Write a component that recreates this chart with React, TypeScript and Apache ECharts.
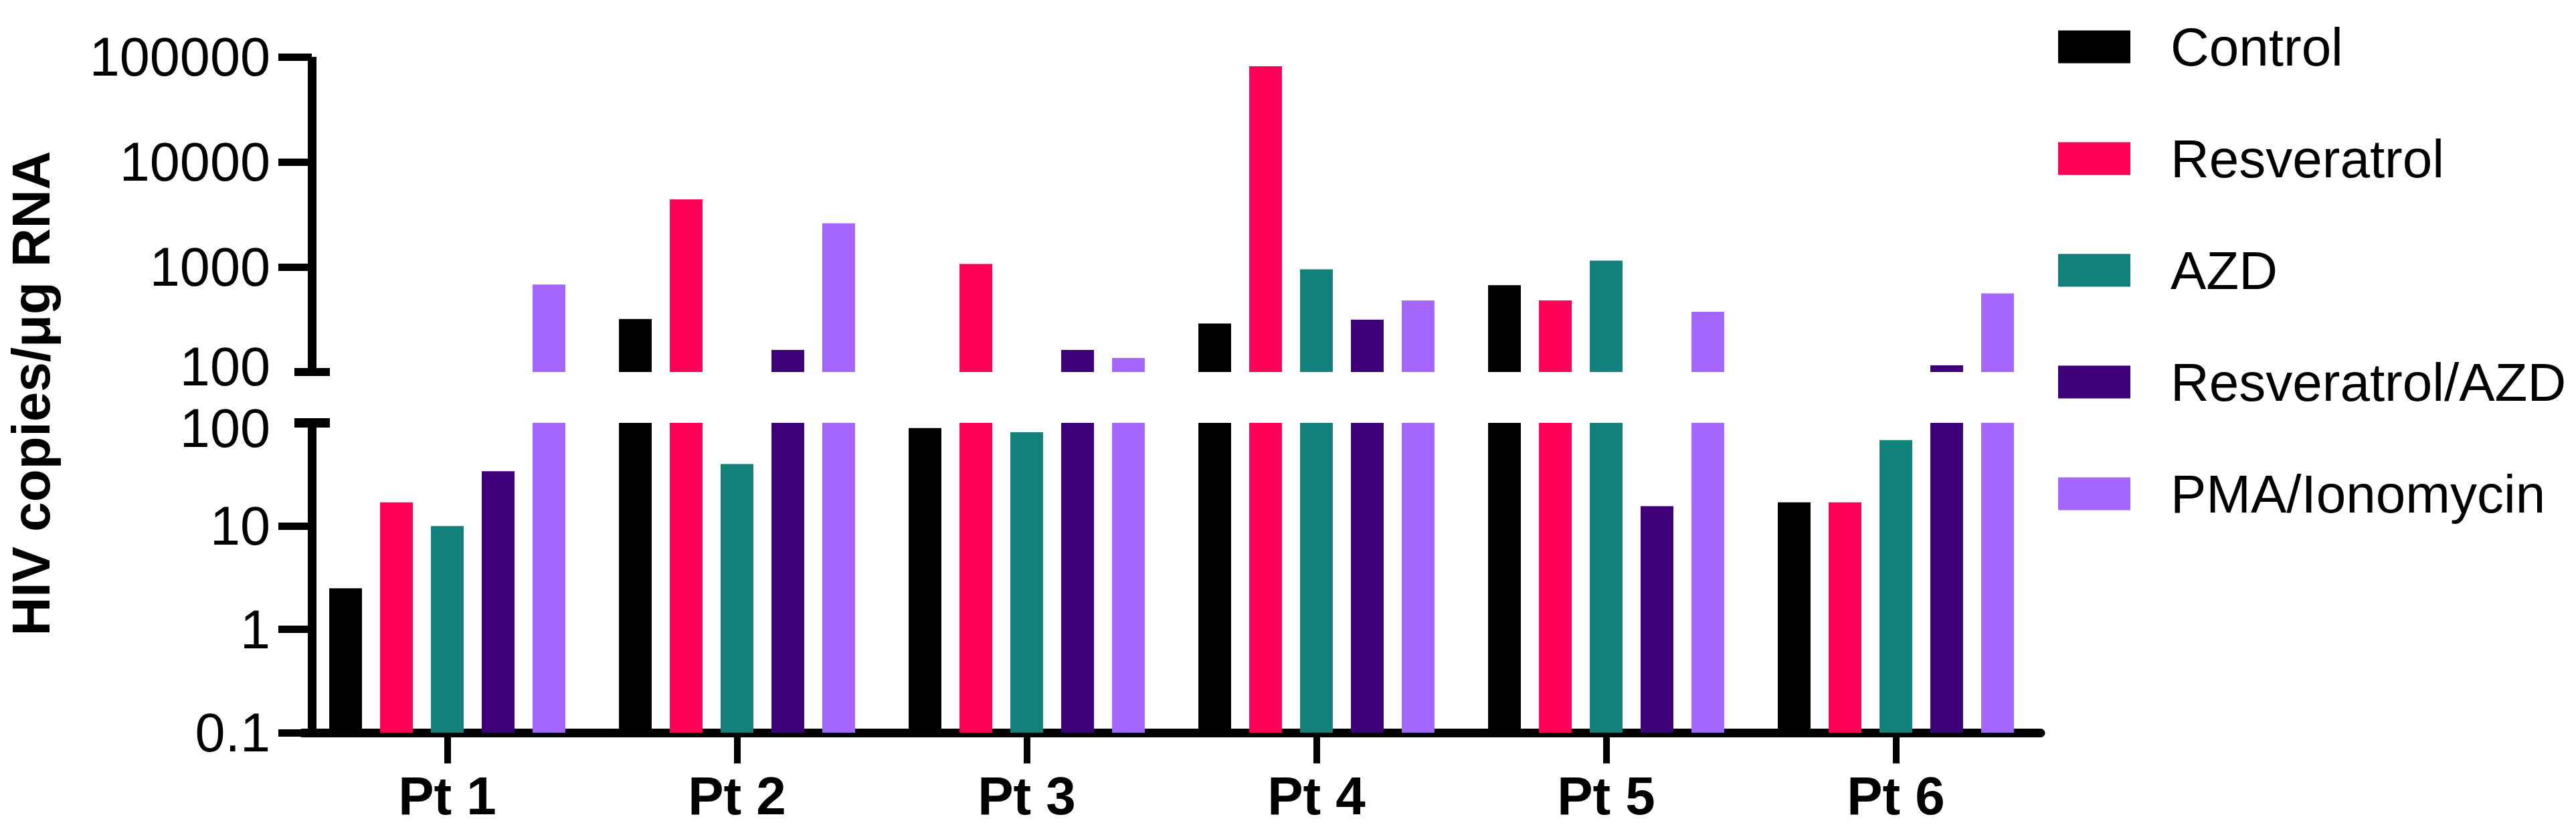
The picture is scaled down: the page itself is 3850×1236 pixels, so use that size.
import React, { useEffect, useRef } from "react";
import * as echarts from "echarts";

const categories = ["Pt 1", "Pt 2", "Pt 3", "Pt 4", "Pt 5", "Pt 6"];
const seriesNames = ["Control", "Resveratrol", "AZD", "Resveratrol/AZD", "PMA/Ionomycin"];
const seriesColors = ["#000000", "#FF0058", "#12807B", "#3D0078", "#A466FC"];

const control = [2.5, 320, 89, 290, 670, 17];
const resveratrol = [17, 4400, 1070, 81500, 480, 17];
const azd = [10, 40, 81, 950, 1150, 68];
const resveratrolAzd = [34, 162, 162, 315, 15.6, 116];
const pmaIonomycin = [680, 2600, 136, 480, 375, 560];

const upperLabels = [100, 1000, 10000, 100000];
const upperTicks = [1000, 10000, 100000];
const lowerLabels = [0.1, 1, 10, 100];
const lowerTicks = [0.1, 1, 10];

const allValues = [control, resveratrol, azd, resveratrolAzd, pmaIonomycin];

const FONT = "'Liberation Sans', Arial, Helvetica, sans-serif";
const GRID_LEFT = 452;
const GRID_RIGHT = 800;
const UP_TOP = 85;
const UP_H = 471;
const LO_TOP = 632;
const LO_H = 463;
const AXIS_SHIFT = -14;
const AXIS_X = GRID_LEFT - AXIS_SHIFT;
const LABEL_SIZE = 81;

function makeRender(seriesIdx: number, axisMin: number) {
  return (params: any, api: any) => {
    const v = api.value(1);
    if (v == null || isNaN(v)) return null;
    const cat = api.value(0);
    const band = api.size([1, 0])[0];
    const bw = band * 0.113;
    const step = band * 0.1755;
    const top = api.coord([cat, v]);
    const base = api.coord([cat, axisMin]);
    const cs = params.coordSys;
    const cx = top[0] + (seriesIdx - 2) * step;
    let y0 = Math.min(top[1], base[1]);
    let y1 = Math.max(top[1], base[1]);
    y0 = Math.max(y0, cs.y);
    y1 = Math.min(y1, cs.y + cs.height);
    if (y1 - y0 <= 0.5) return null;
    return {
      type: "rect",
      shape: { x: cx - bw / 2, y: y0, width: bw, height: y1 - y0 },
      style: api.style(),
    };
  };
}

export default function App() {
  const ref = useRef<HTMLDivElement>(null);
  useEffect(() => {
    if (!ref.current) return;
    const chart = echarts.init(ref.current, null, { renderer: "svg" });
    const series: any[] = [];
    [0, 1].forEach((g) => {
      allValues.forEach((vals, i) => {
        series.push({
          type: "custom",
          name: seriesNames[i],
          xAxisIndex: g,
          yAxisIndex: g,
          clip: true,
          itemStyle: { color: seriesColors[i] },
          encode: { x: 0, y: 1 },
          data: vals.map((v, k) => [k, v]),
          renderItem: makeRender(i, g === 0 ? upperLabels[0] : lowerLabels[0]),
        });
      });
    });
    const tokenStyle = { fontSize: LABEL_SIZE, fontFamily: FONT, color: "#000" };
    const yCommon = (
      labels: number[],
      ticks: number[],
      min: number,
      max: number,
      gi: number,
      breakValue: number,
      breakToken: string
    ) => ({
      type: "log",
      logBase: 10,
      gridIndex: gi,
      min,
      max,
      offset: AXIS_SHIFT,
      axisLine: { show: true, lineStyle: { color: "#000", width: 13, cap: "butt" } },
      axisTick: { show: true, length: 50, lineStyle: { color: "#000", width: 11 }, customValues: ticks },
      axisLabel: {
        show: true,
        color: "#000",
        fontSize: LABEL_SIZE,
        fontFamily: FONT,
        margin: 62,
        customValues: labels,
        formatter: (v: number) => (v === breakValue ? `{${breakToken}|${v}}` : String(v)),
        rich: {
          up: { ...tokenStyle, padding: [0, 0, 16, 0] },
          down: { ...tokenStyle, padding: [16, 0, 0, 0] },
        },
      },
      splitLine: { show: false },
      minorTick: { show: false },
    });
    chart.setOption({
      animation: false,
      backgroundColor: "#ffffff",
      textStyle: { fontFamily: FONT },
      grid: [
        { left: GRID_LEFT, right: GRID_RIGHT, top: UP_TOP, height: UP_H },
        { left: GRID_LEFT, right: GRID_RIGHT, top: LO_TOP, height: LO_H },
      ],
      xAxis: [
        { type: "category", gridIndex: 0, data: categories, show: false },
        {
          type: "category",
          gridIndex: 1,
          data: categories,
          axisLine: { show: true, lineStyle: { color: "#000", width: 13 } },
          axisTick: { show: true, alignWithLabel: true, length: 46, lineStyle: { color: "#000", width: 10 } },
          axisLabel: {
            color: "#000",
            fontSize: 80,
            lineHeight: 72,
            fontWeight: "bold",
            fontFamily: FONT,
            margin: 58,
          },
        },
      ],
      yAxis: [
        yCommon(upperLabels, upperTicks, 100, 100000, 0, 100, "up"),
        yCommon(lowerLabels, lowerTicks, 0.1, 100, 1, 100, "down"),
      ],
      legend: {
        data: seriesNames,
        orient: "vertical",
        left: 3071,
        top: 25,
        icon: "rect",
        itemWidth: 108,
        itemHeight: 49,
        itemGap: 87,
        selectedMode: false,
        textStyle: { color: "#000", fontSize: 80, fontFamily: FONT, lineHeight: 49, padding: [0, 0, 0, 55] },
      },
      graphic: [
        {
          type: "text",
          x: 46,
          y: 588,
          rotation: Math.PI / 2,
          style: {
            text: "HIV copies/μg RNA",
            fontSize: 80,
            fontWeight: "bold",
            fontFamily: FONT,
            fill: "#000",
            align: "center",
            verticalAlign: "middle",
          },
        },
        {
          type: "line",
          shape: { x1: AXIS_X - 26, y1: UP_TOP + UP_H, x2: AXIS_X + 27, y2: UP_TOP + UP_H },
          style: { stroke: "#000", lineWidth: 12 },
        },
        {
          type: "line",
          shape: { x1: AXIS_X - 26, y1: LO_TOP, x2: AXIS_X + 27, y2: LO_TOP },
          style: { stroke: "#000", lineWidth: 14 },
        },
      ],
      series,
    });
    return () => chart.dispose();
  }, []);
  return (
    <div
      ref={ref}
      style={{ position: "fixed", left: 0, top: 0, width: 3850, height: 1236, background: "#fff" }}
    />
  );
}
